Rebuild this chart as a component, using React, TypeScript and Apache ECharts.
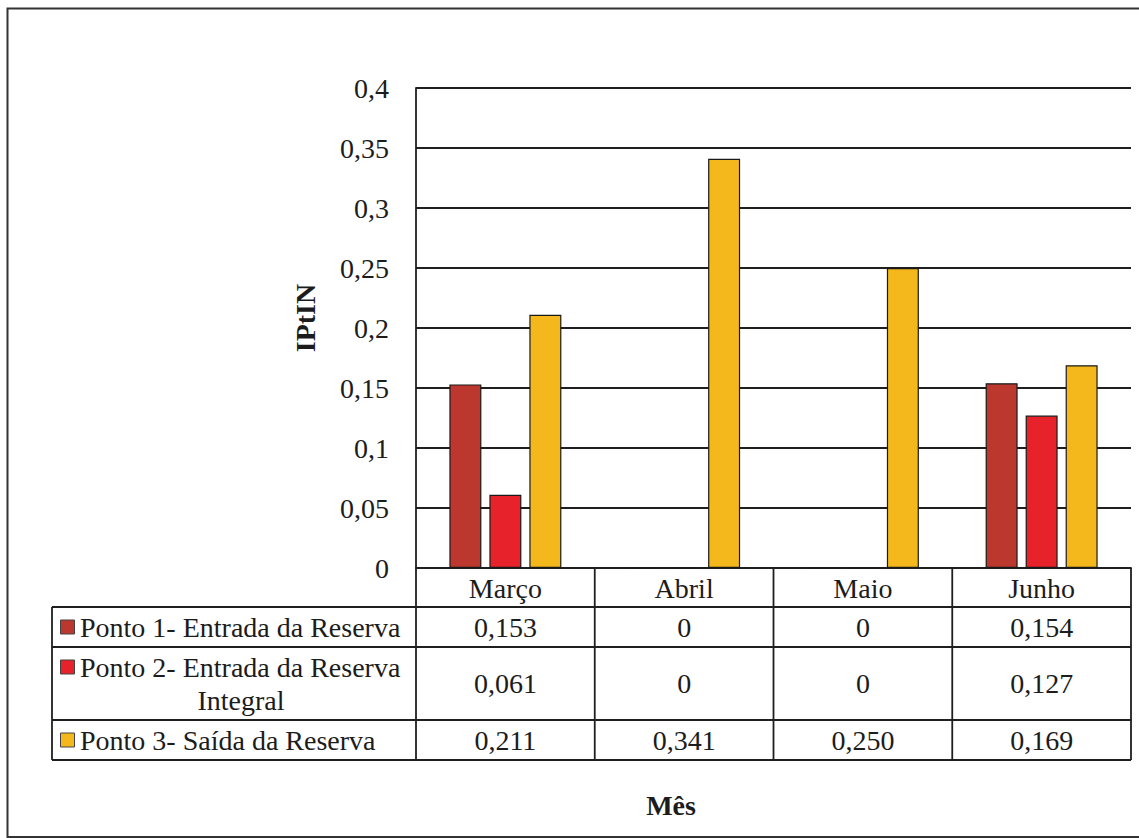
import React, { useEffect, useRef } from "react";
import * as echarts from "echarts";

// Months on the category axis
const months = ["Março", "Abril", "Maio", "Junho"];

// IPtIN per sampling point
const ponto1 = [0.153, 0, 0, 0.154];
const ponto2 = [0.061, 0, 0, 0.127];
const ponto3 = [0.211, 0.341, 0.25, 0.169];

// Row captions of the data table (one entry per line)
const rowCaptions = [
  ["Ponto 1- Entrada da Reserva"],
  ["Ponto 2- Entrada da Reserva", "Integral"],
  ["Ponto 3- Saída da Reserva"],
];
const seriesNames = [
  "Ponto 1- Entrada da Reserva",
  "Ponto 2- Entrada da Reserva Integral",
  "Ponto 3- Saída da Reserva",
];
const seriesColors = ["#BC382E", "#E8222A", "#F4B81D"];

// Value axis
const yMin = 0;
const yMax = 0.4;
const yStep = 0.05;
const yTitle = "IPtIN";
const xTitle = "Mês";

const FONT = "Liberation Serif, Times New Roman, DejaVu Serif, serif";
const INK = "#1c1c1c";
const LINE = "#1f1f1f";

// Layout of the data table below the plot
const ROW_HEIGHTS = [39, 40, 73, 40];
const CAPTION_LEFT = 52;
const CAPTION_TEXT_X = 80;

const fmtAxis = (v: number) => String(parseFloat(v.toFixed(2))).replace(".", ",");
const fmtCell = (v: number) => (v === 0 ? "0" : v.toFixed(3).replace(".", ","));

function buildTable(chart: echarts.ECharts) {
  const data = [ponto1, ponto2, ponto3];
  const centers = months.map((_, i) => chart.convertToPixel({ xAxisIndex: 0 }, i) as number);
  const band = centers[1] - centers[0];
  const edges = [centers[0] - band / 2, ...centers.map((c) => c + band / 2)];
  const yZero = chart.convertToPixel({ yAxisIndex: 0 }, 0) as number;
  const rowY: number[] = [yZero];
  ROW_HEIGHTS.forEach((h) => rowY.push(rowY[rowY.length - 1] + h));
  const bottom = rowY[rowY.length - 1];
  const left = edges[0];
  const right = edges[edges.length - 1];

  const els: any[] = [];
  const line = (x1: number, y1: number, x2: number, y2: number) =>
    els.push({
      type: "line",
      shape: { x1, y1, x2, y2 },
      style: { stroke: LINE, lineWidth: 1.8 },
      silent: true,
    });
  const text = (x: number, y: number, t: string, align = "center", bold = false) =>
    els.push({
      type: "text",
      x,
      y,
      style: {
        text: t,
        fill: INK,
        fontFamily: FONT,
        fontSize: 28,
        fontWeight: bold ? "bold" : "normal",
        align,
        verticalAlign: "middle",
      },
      silent: true,
    });

  // outer chart frame
  els.push({
    type: "rect",
    shape: { x: 7.5, y: 8.5, width: 1140, height: 828.5 },
    style: { fill: "none", stroke: "#333", lineWidth: 2 },
    silent: true,
  });

  // grid lines of the table
  rowY.forEach((y, i) => {
    line(left, y, right, y);
    if (i >= 1) line(CAPTION_LEFT, y, left, y);
  });
  edges.forEach((x) => line(x, yZero, x, bottom));
  line(CAPTION_LEFT, rowY[1], CAPTION_LEFT, bottom);

  // values and captions
  data.forEach((row, r) => {
    const y0 = rowY[r + 1];
    const y1 = rowY[r + 2];
    const mid = (y0 + y1) / 2;
    row.forEach((v, c) => text(centers[c], mid, fmtCell(v)));
    const lines = rowCaptions[r];
    const lh = 33;
    const firstY = mid - ((lines.length - 1) * lh) / 2;
    els.push({
      type: "rect",
      shape: { x: 60.5, y: firstY - 7, width: 14, height: 14 },
      style: { fill: seriesColors[r], stroke: "#444", lineWidth: 1 },
      silent: true,
    });
    lines.forEach((t, k) => {
      if (k === 0) text(CAPTION_TEXT_X, firstY, t, "left");
      else text((CAPTION_TEXT_X + left - 14) / 2, firstY + k * lh, t, "center");
    });
  });

  // horizontal axis title
  text(671, 805, xTitle, "center", true);
  return els;
}

export default function App() {
  const ref = useRef<HTMLDivElement>(null);

  useEffect(() => {
    if (!ref.current) return;
    const chart = echarts.init(ref.current, null, { renderer: "svg" });
    const values = [ponto1, ponto2, ponto3];
    chart.setOption({
      animation: false,
      backgroundColor: "#ffffff",
      grid: { left: 416, right: 8, top: 88, bottom: 270, containLabel: false },
      xAxis: {
        type: "category",
        data: months,
        axisLine: { show: true, lineStyle: { color: LINE, width: 1.8 } },
        axisTick: { show: false },
        axisLabel: {
          color: INK,
          fontFamily: FONT,
          fontSize: 28,
          margin: 20,
          verticalAlign: "middle",
          interval: 0,
        },
      },
      yAxis: {
        type: "value",
        min: yMin,
        max: yMax,
        interval: yStep,
        name: yTitle,
        nameLocation: "middle",
        nameRotate: 90,
        nameGap: 97,
        nameTextStyle: { color: INK, fontFamily: FONT, fontSize: 28, fontWeight: "bold", padding: [0, 0, 0, 20] },
        axisLine: { show: true, lineStyle: { color: LINE, width: 1.8 } },
        axisTick: { show: false },
        splitLine: { show: true, lineStyle: { color: LINE, width: 1.8 } },
        axisLabel: {
          color: INK,
          fontFamily: FONT,
          fontSize: 28,
          margin: 27,
          formatter: (v: number) => fmtAxis(v),
        },
      },
      series: values.map((d, i) => ({
        type: "bar",
        name: seriesNames[i],
        data: d,
        barWidth: 32,
        barGap: "25%",
        itemStyle: { color: seriesColors[i], borderColor: "#1a1a1a", borderWidth: 1.2 },
      })),
    });
    chart.setOption({ graphic: buildTable(chart) });
    return () => chart.dispose();
  }, []);

  return (
    <div
      ref={ref}
      style={{ position: "fixed", left: 0, top: 0, width: 1139, height: 838, background: "#fff" }}
    />
  );
}
